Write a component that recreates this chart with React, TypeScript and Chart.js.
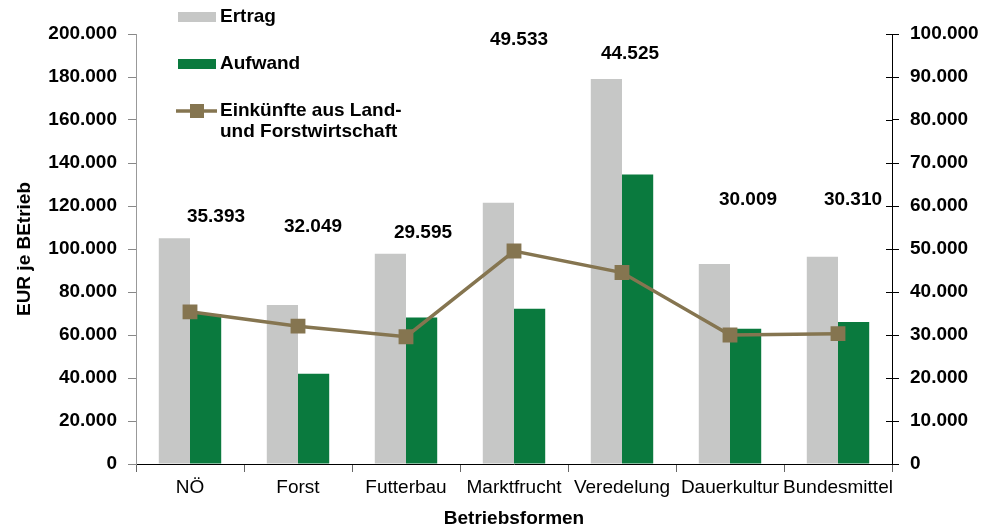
import React, { useEffect, useRef } from 'react';
import { Chart, registerables } from 'chart.js';

Chart.register(...registerables);

// ---- data ----
const categories = ['NÖ', 'Forst', 'Futterbau', 'Marktfrucht', 'Veredelung', 'Dauerkultur', 'Bundesmittel'];
const ertrag = [105000, 74000, 97800, 121500, 179100, 93000, 96400];
const aufwand = [69800, 42000, 68100, 72200, 134600, 62900, 66000];
const einkuenfte = [35393, 32049, 29595, 49533, 44525, 30009, 30310];

const leftAxis = { min: 0, max: 200000, step: 20000 };
const rightAxis = { min: 0, max: 100000, step: 10000 };

const seriesNames = ['Ertrag', 'Aufwand', 'Einkünfte aus Land- und Forstwirtschaft'];
const lineLegendLines = ['Einkünfte aus Land-', 'und Forstwirtschaft'];

// label placement for the Einkünfte value labels (left-axis units, px shift)
const labelAnchor = [115200, 110500, 107700, 197100, 190900, 122900, 122900];
const labelShiftPx = [26, 15, 17, 5, 8, 18, 15];

// ---- styles ----
const FONT = '"Liberation Sans", Arial, Helvetica, sans-serif';
const GRAY = '#C6C7C6';
const GREEN = '#0A7A3E';
const BROWN = '#857550';

const fmt = (v: number) => String(Math.round(v)).replace(/\B(?=(\d{3})+(?!\d))/g, '.');

const overlay = {
  id: 'overlay',
  afterDraw(chart: any) {
    const ctx = chart.ctx;
    const x = chart.scales.x;
    const y = chart.scales.y;
    const y2 = chart.scales.y2;
    ctx.save();

    // inner halves of right-axis ticks (crossing ticks)
    ctx.strokeStyle = '#000';
    ctx.lineWidth = 1;
    y2.ticks.forEach((t: any) => {
      const py = Math.round(y2.getPixelForValue(t.value)) + 0.5;
      ctx.beginPath();
      ctx.moveTo(chart.chartArea.right - 6, py);
      ctx.lineTo(chart.chartArea.right, py);
      ctx.stroke();
    });

    // value labels
    ctx.font = `bold 19px ${FONT}`;
    ctx.fillStyle = '#000';
    ctx.textAlign = 'center';
    ctx.textBaseline = 'middle';
    einkuenfte.forEach((v, i) => {
      ctx.fillText(fmt(v), x.getPixelForValue(i) + labelShiftPx[i], y.getPixelForValue(labelAnchor[i]));
    });

    // legend
    ctx.textAlign = 'left';
    ctx.fillStyle = GRAY;
    ctx.fillRect(178, 12, 38, 10);
    ctx.fillStyle = '#000';
    ctx.fillText(seriesNames[0], 220, 17);

    ctx.fillStyle = GREEN;
    ctx.fillRect(178, 59, 38, 10);
    ctx.fillStyle = '#000';
    ctx.fillText(seriesNames[1], 220, 64);

    ctx.strokeStyle = BROWN;
    ctx.lineWidth = 3.5;
    ctx.beginPath();
    ctx.moveTo(176, 111);
    ctx.lineTo(217, 111);
    ctx.stroke();
    ctx.fillStyle = BROWN;
    ctx.fillRect(190, 104, 14, 14);
    ctx.fillStyle = '#000';
    ctx.fillText(lineLegendLines[0], 220, 111);
    ctx.fillText(lineLegendLines[1], 220, 132);

    ctx.restore();
  },
};

export default function App() {
  const ref = useRef<HTMLCanvasElement | null>(null);

  useEffect(() => {
    if (!ref.current) return;
    Chart.defaults.font.family = FONT;
    const chart = new Chart(ref.current, {
      type: 'bar',
      data: {
        labels: categories,
        datasets: [
          {
            type: 'line',
            label: seriesNames[2],
            data: einkuenfte,
            yAxisID: 'y2',
            borderColor: BROWN,
            backgroundColor: BROWN,
            borderWidth: 3.5,
            pointStyle: 'rect',
            pointRadius: 10.5,
            pointBorderWidth: 0,
            pointBackgroundColor: BROWN,
            tension: 0,
            order: 0,
          } as any,
          {
            label: seriesNames[0],
            data: ertrag,
            yAxisID: 'y',
            backgroundColor: GRAY,
            categoryPercentage: 0.578,
            barPercentage: 1,
            order: 1,
          },
          {
            label: seriesNames[1],
            data: aufwand,
            yAxisID: 'y',
            backgroundColor: GREEN,
            categoryPercentage: 0.578,
            barPercentage: 1,
            order: 1,
          },
        ],
      },
      options: {
        animation: false,
        responsive: true,
        maintainAspectRatio: false,
        layout: { padding: { top: 34, left: 0, right: 0, bottom: 0 } },
        plugins: {
          legend: { display: false },
          tooltip: { enabled: false },
        },
        scales: {
          x: {
            offset: true,
            grid: { drawOnChartArea: false, drawTicks: true, tickLength: 8, color: '#666', offset: true },
            border: { display: true, color: '#000', width: 1 },
            ticks: {
              color: '#000',
              font: { size: 19, weight: 'normal' },
              padding: 4,
              maxRotation: 0,
              minRotation: 0,
              autoSkip: false,
            },
            title: {
              display: true,
              text: 'Betriebsformen',
              color: '#000',
              font: { size: 19, weight: 'bold' },
              padding: { top: 0, bottom: 0 },
            },
            afterFit: (s: any) => {
              s.height = 66;
            },
          },
          y: {
            position: 'left',
            min: leftAxis.min,
            max: leftAxis.max,
            grid: { drawOnChartArea: false, drawTicks: true, tickLength: 8, color: '#888' },
            border: { display: true, color: '#999', width: 1 },
            ticks: {
              stepSize: leftAxis.step,
              color: '#000',
              font: { size: 19, weight: 'bold' },
              padding: 11,
              callback: (v: any) => fmt(Number(v)),
            },
            title: {
              display: true,
              text: 'EUR je BEtrieb',
              color: '#000',
              font: { size: 19, weight: 'bold' },
              padding: { top: 13, bottom: 0 },
            },
            afterFit: (s: any) => {
              s.width = 136;
            },
          },
          y2: {
            position: 'right',
            min: rightAxis.min,
            max: rightAxis.max,
            grid: { drawOnChartArea: false, drawTicks: true, tickLength: 7, color: '#000' },
            border: { display: true, color: '#000', width: 1 },
            ticks: {
              stepSize: rightAxis.step,
              color: '#000',
              font: { size: 19, weight: 'bold' },
              padding: 11,
              callback: (v: any) => fmt(Number(v)),
            },
            afterFit: (s: any) => {
              s.width = 97;
            },
          },
        },
      },
      plugins: [overlay],
    });
    return () => chart.destroy();
  }, []);

  return (
    <div style={{ position: 'fixed', left: 0, top: 0, width: 989, height: 530, background: '#fff' }}>
      <canvas ref={ref} />
    </div>
  );
}
